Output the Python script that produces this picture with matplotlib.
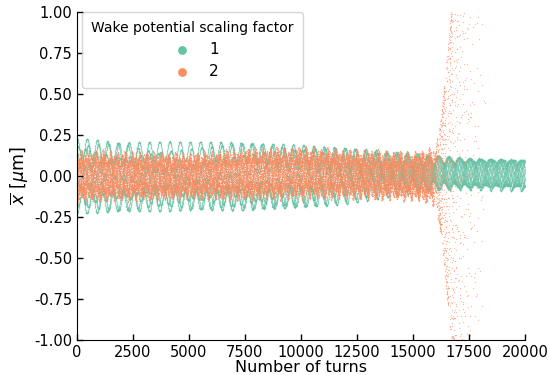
import numpy as np
import matplotlib
matplotlib.use('Agg')
import matplotlib.pyplot as plt

# envelope knots (turn -> amplitude in um)
knot_turns = [0, 2500, 5000, 7500, 10000, 12500, 15000, 17500, 20000]
# scaling factor 1: slow bunch offset and fast wiggle amplitude
offset_1 = [0.17, 0.16, 0.15, 0.15, 0.13, 0.10, 0.06, 0.03, 0.02]
wiggle_1 = [0.06, 0.06, 0.06, 0.06, 0.06, 0.07, 0.08, 0.08, 0.08]
# scaling factor 2: stable part, then the blow up
orange_turns = [0, 2500, 5000, 7500, 10000, 12500, 15000, 15800, 16000, 16200, 16400,
                16600, 16800, 17000, 17500, 18000, 18200]
orange_amp = [0.16, 0.15, 0.14, 0.16, 0.16, 0.15, 0.15, 0.17, 0.2, 0.3, 0.55,
              0.85, 1.1, 1.5, 3.0, 6.0, 8.0]
orange_center = [0.0, 0.0, 0.0, 0.01, 0.02, 0.01, 0.0, 0.0, 0.0, 0.0, 0.0,
                 0.0, 0.0, 0.0, 0.0, 0.0, 0.0]

labels = ['1', '2']
colors = ['#66c2a5', '#fc8d62']

n_bunch_1 = 8
n_bunch_2 = 16

fig = plt.figure(figsize=(5.49, 3.75), dpi=100)
ax = fig.add_axes([0.140, 0.093, 0.816, 0.875])

# scaling factor 1: smooth oscillating centroids
t1 = np.arange(0, 20001, 5)
off = np.interp(t1, knot_turns, offset_1)
wig = np.interp(t1, knot_turns, wiggle_1)
for b in range(n_bunch_1):
    slow = np.cos(2 * np.pi * t1 / (22000 + 3000 * b) + 2 * np.pi * b / n_bunch_1)
    fast = np.cos(2 * np.pi * t1 / 455 + 0.8 * b)
    x = off * slow + wig * fast
    ax.scatter(t1, x, s=1.0, color=colors[0], alpha=0.45, linewidths=0,
               label=labels[0] if b == 0 else None)

# scaling factor 2: betatron motion sampled every 10 turns
t2 = np.arange(0, 18201, 10)
amp = np.interp(t2, orange_turns, orange_amp)
cen = np.interp(t2, orange_turns, orange_center)
for b in range(n_bunch_2):
    # bunch amplitudes spread below the envelope, except in the blow up
    scale = np.where(amp > 0.25, 1.0, 0.45 + 0.55 * ((b * 0.618) % 1.0))
    phase = 2 * np.pi * (0.30309017 * t2 + 0.137 * b * b + 0.071 * b)
    x = cen + scale * amp * np.cos(phase)
    if b % 2:
        x = x + 0.02 * np.cos(2 * np.pi * t2 / 455 + b)
    # fewer bunches survive once the beam blows up
    keep = (t2 < 15900) | (b % 2 == 0)
    ax.scatter(t2[keep], x[keep], s=0.9, color=colors[1], alpha=0.6, linewidths=0,
               label=labels[1] if b == 0 else None)

ax.set_xlim(0, 20000)
ax.set_ylim(-1, 1)
ax.set_xticks(np.arange(0, 20001, 2500))
ax.set_yticks(np.arange(-1, 1.01, 0.25))
ax.yaxis.set_major_formatter(matplotlib.ticker.FormatStrFormatter('%.2f'))
ax.tick_params(direction='in', labelsize=10.5, length=4, width=1)
ax.spines['top'].set_visible(False)
ax.spines['right'].set_visible(False)
ax.set_xlabel('Number of turns', fontsize=11.5, labelpad=0)
ax.set_ylabel(r'$\overline{x}$ [$\mu$m]', fontsize=12.5, labelpad=2)

leg = ax.legend(title='Wake potential scaling factor', loc='upper left',
                bbox_to_anchor=(0.012, 1.0), borderaxespad=0,
                fontsize=11, title_fontsize=10, scatterpoints=1,
                borderpad=0.6, labelspacing=0.45)
for h in leg.legend_handles:
    h.set_alpha(1)
    h.set_sizes([40])

fig.savefig('out.png', dpi=100)
